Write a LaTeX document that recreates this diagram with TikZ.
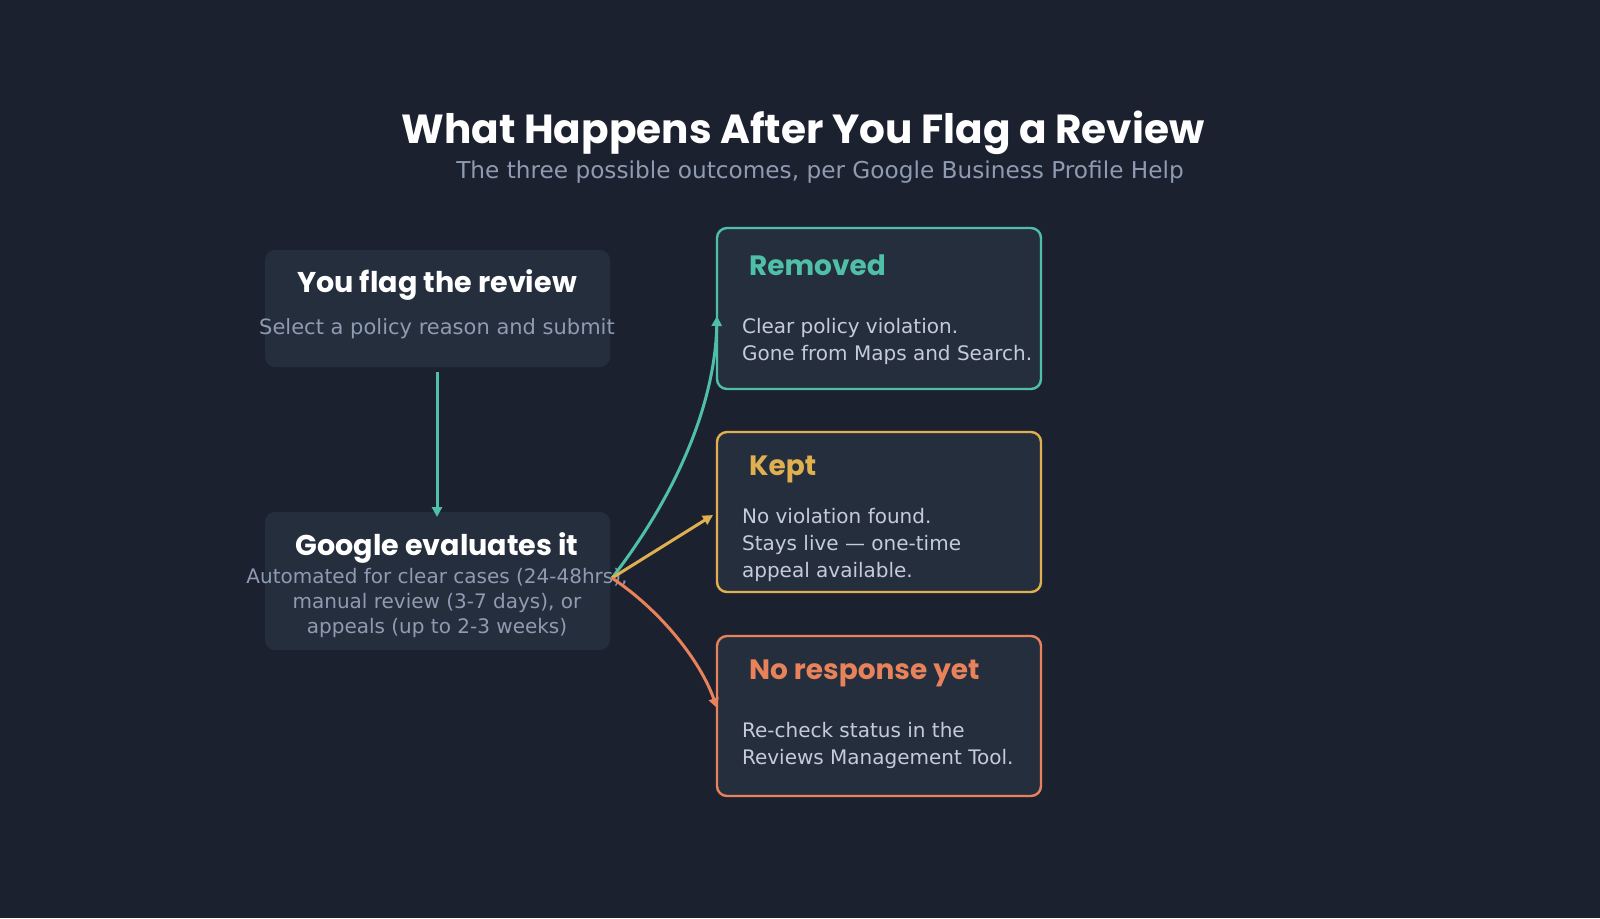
\documentclass[tikz,border=0pt]{standalone}
\usepackage{fontspec}
\setmainfont{DejaVu Sans}
\newfontfamily\pop{Poppins}
\usetikzlibrary{arrows.meta}
\definecolor{bg}{HTML}{1C2130}
\definecolor{boxf}{HTML}{252E3D}
\definecolor{teal}{HTML}{4FBFA8}
\definecolor{gold}{HTML}{E0B050}
\definecolor{coral}{HTML}{E8825A}
\definecolor{sub}{HTML}{8F9BB0}
\definecolor{body}{HTML}{C5CCD8}
\begin{document}
\begin{tikzpicture}[x=0.5pt,y=-0.5pt,
  lbox/.style={fill=boxf,rounded corners=5pt},
  rbox/.style={fill=boxf,rounded corners=5pt,line width=1.2pt},
  head/.style={font=\pop\bfseries\fontsize{14}{16}\selectfont,anchor=west},
  txt/.style={font=\fontsize{10}{13.5}\selectfont,text=body,anchor=north west,align=left},
  arr/.style={line width=1.5pt,-{Triangle[length=5pt,width=5pt]}}]
\fill[bg] (0,0) rectangle (1600,918);
\node[text=white,font=\pop\bfseries\fontsize{20.3}{22}\selectfont] (title) at (803,133) {What Happens After You Flag a Review};
\node[text=sub,font=\fontsize{11.6}{13}\selectfont] (subt) at (820,172) {The three possible outcomes, per Google Business Profile Help};
% left boxes
\fill[lbox] (265,250) rectangle (610,367);
\node[text=white,font=\pop\bfseries\fontsize{14.3}{16}\selectfont] (b1) at (437,285) {You flag the review};
\node[text=sub,font=\fontsize{10.5}{13}\selectfont] (b1t) at (437,329) {Select a policy reason and submit};
\fill[lbox] (265,512) rectangle (610,650);
\node[text=white,font=\pop\bfseries\fontsize{14.3}{16}\selectfont] (b2) at (437,548) {Google evaluates it};
\node[text=sub,font=\fontsize{10}{12.6}\selectfont,align=center] (b2t) at (437,603) {Automated for clear cases (24-48hrs),\\manual review (3-7 days), or\\appeals (up to 2-3 weeks)};
% right boxes
\draw[rbox,draw=teal] (717,228) rectangle (1041,389);
\node[head,text=teal] (h1) at (742,265) {Removed};
\node[txt] (t1) at (735,311) {Clear policy violation.\\Gone from Maps and Search.};
\draw[rbox,draw=gold] (717,432) rectangle (1041,592);
\node[head,text=gold] (h2) at (742,469) {Kept};
\node[txt] (t2) at (735,501) {No violation found.\\Stays live — one-time\\appeal available.};
\draw[rbox,draw=coral] (717,636) rectangle (1041,796);
\node[head,text=coral] (h3) at (742,673) {No response yet};
\node[txt] (t3) at (735,715) {Re-check status in the\\Reviews Management Tool.};
% connectors
\coordinate (s1) at (437,372);
\coordinate (e1) at (437,517);
\draw[arr,teal] (s1) -- (e1);
\coordinate (o) at (612,578);
\coordinate (r1) at (717,316);
\coordinate (r2) at (713,515);
\coordinate (r3) at (717,708);
\draw[arr,teal] (o) .. controls (680,490) and (715,400) .. (r1);
\draw[arr,gold] (o) -- (r2);
\draw[arr,coral] (o) .. controls (660,610) and (700,660) .. (r3);
\end{tikzpicture}
\end{document}
